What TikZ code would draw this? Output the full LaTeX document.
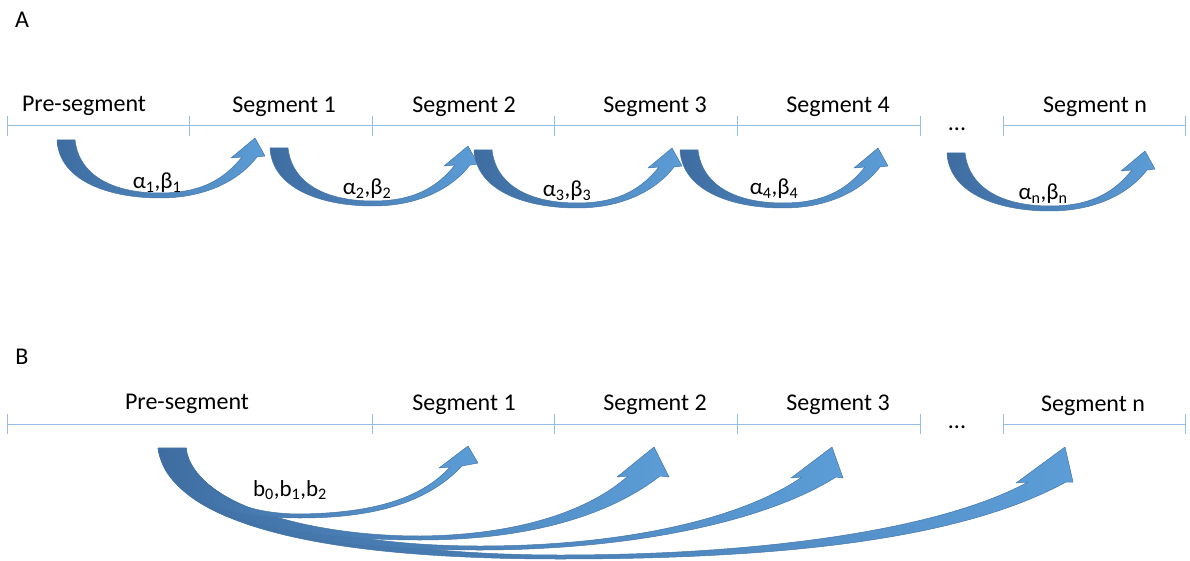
\documentclass[tikz,border=0pt]{standalone}
\usepackage{fontspec}
\setmainfont{Carlito}
\definecolor{tline}{RGB}{150,190,228}
\definecolor{adark}{RGB}{62,108,160}
\definecolor{alight}{RGB}{92,157,215}
\definecolor{aedge}{RGB}{70,118,168}
\tikzset{
  tl/.style={draw=tline, line width=1pt},
  lab/.style={font=\fontsize{24}{28}\selectfont, inner sep=0pt},
  glab/.style={font=\fontsize{23}{27}\selectfont, inner sep=0pt},
  bigarrow/.style={left color=adark, right color=alight, draw=aedge, line width=0.5pt, line join=round},
}
\newcommand\segarrowA[2]{%
  \begin{scope}[shift={(#1,#2)}]
    \path[bigarrow] (0,0) .. controls (2,40) and (50,58) .. (103,58)
      .. controls (152,58) and (184,38) .. (200,17) -- (208,16) -- (198,-2) -- (174,18) -- (185,17)
      .. controls (168,38) and (146,53) .. (103,53)
      .. controls (55,53) and (22,35) .. (18,0) -- cycle;
  \end{scope}}
\begin{document}
\begin{tikzpicture}[x=1pt,y=-1pt]
\useasboundingbox (0,0) rectangle (1190,561);
% ---------------- A ----------------
\node[lab] (labA) at (22,20) {A};
\foreach \n/\x in {a0/7,a1/189,a2/372,a3/554,a4/737,a5/920,a6/1003,a7/1185}{
  \coordinate (\n) at (\x,126);
  \draw[tl] (\x,116) -- (\x,136);
}
\draw[tl] (a0) -- (a5);
\draw[tl] (a6) -- (a7);
\node[lab] (pA) at (84,106) {Pre-segment};
\node[lab] (s1A) at (284,107) {Segment 1};
\node[lab] (s2A) at (464,107) {Segment 2};
\node[lab] (s3A) at (655,107) {Segment 3};
\node[lab] (s4A) at (838,107) {Segment 4};
\node[lab] (snA) at (1095,107) {Segment n};
\node[lab] (dotsA) at (957,129) {...};
\segarrowA{57}{140}
\segarrowA{270}{148}
\segarrowA{474}{150}
\segarrowA{680}{150}
\segarrowA{947}{153}
\node[glab] (l1) at (157,183) {α\textsubscript{1},β\textsubscript{1}};
\node[glab] (l2) at (367,189) {α\textsubscript{2},β\textsubscript{2}};
\node[glab] (l3) at (567,191) {α\textsubscript{3},β\textsubscript{3}};
\node[glab] (l4) at (774,189) {α\textsubscript{4},β\textsubscript{4}};
\node[glab] (ln) at (1043,194) {α\textsubscript{n},β\textsubscript{n}};
% ---------------- B ----------------
\node[lab] (labB) at (22,357) {B};
\foreach \n/\x in {b0/7,b2/372,b3/554,b4/737,b5/920,b6/1003,b7/1185}{
  \coordinate (\n) at (\x,424);
  \draw[tl] (\x,414) -- (\x,434);
}
\draw[tl] (b0) -- (b5);
\draw[tl] (b6) -- (b7);
\node[lab] (pB) at (187,404) {Pre-segment};
\node[lab] (s1B) at (464,405) {Segment 1};
\node[lab] (s2B) at (655,405) {Segment 2};
\node[lab] (s3B) at (838,405) {Segment 3};
\node[lab] (snB) at (1093,406) {Segment n};
\node[lab] (dotsB) at (957,427) {...};
% arrow n
\path[bigarrow] (158,448) .. controls (175,540) and (380,559) .. (560,559)
  .. controls (780,559) and (960,540) .. (1066,482) -- (1073,482) -- (1065,447) -- (1016,483) -- (1028,482)
  .. controls (940,530) and (760,555) .. (560,555)
  .. controls (340,555) and (194,510) .. (186,448) -- cycle;
% arrow 3
\path[bigarrow] (158,448) .. controls (172,530) and (330,550) .. (480,550)
  .. controls (620,550) and (760,525) .. (836,477) -- (843,478) -- (832,447) -- (791,478) -- (802,477)
  .. controls (740,520) and (620,546) .. (480,546)
  .. controls (320,546) and (192,505) .. (186,448) -- cycle;
% arrow 2
\path[bigarrow] (158,448) .. controls (170,520) and (300,540) .. (420,540)
  .. controls (530,540) and (610,515) .. (660,476) -- (669,477) -- (654,447) -- (617,477) -- (628,476)
  .. controls (590,510) and (520,535) .. (420,536)
  .. controls (300,536) and (190,500) .. (186,448) -- cycle;
% arrow 1
\path[bigarrow] (158,448) .. controls (165,500) and (230,518) .. (300,518)
  .. controls (380,518) and (430,500) .. (462,466) -- (478,463) -- (468,446) -- (439,468) -- (450,467)
  .. controls (420,500) and (370,513) .. (300,514)
  .. controls (240,514) and (190,490) .. (186,448) -- cycle;
\node[glab] (lb) at (290,490) {b\textsubscript{0},b\textsubscript{1},b\textsubscript{2}};
\end{tikzpicture}
\end{document}
